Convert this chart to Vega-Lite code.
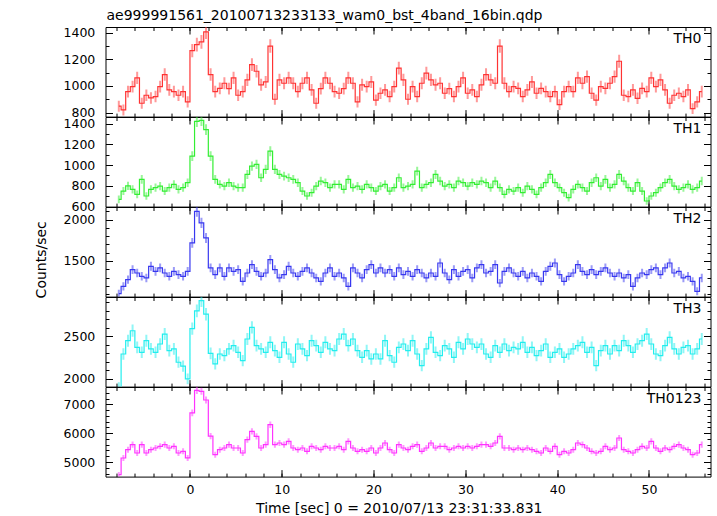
{
"$schema": "https://vega.github.io/schema/vega-lite/v6.json",
"background": "white",
"padding": {"left": 33.5, "top": 7, "right": 5, "bottom": 5},
"datasets": {
"TH0": [
{"t":-7.75,"v":848,"e":41},{"t":-7.25,"v":820,"e":41},{"t":-6.75,"v":957,"e":44},{"t":-6.25,"v":995,"e":44},{"t":-5.75,"v":1060,"e":46},{"t":-5.25,"v":870,"e":41},{"t":-4.75,"v":930,"e":43},{"t":-4.25,"v":910,"e":43},
{"t":-3.75,"v":920,"e":43},{"t":-3.25,"v":995,"e":44},{"t":-2.75,"v":1085,"e":47},{"t":-2.25,"v":970,"e":44},{"t":-1.75,"v":957,"e":44},{"t":-1.25,"v":930,"e":43},{"t":-0.75,"v":957,"e":44},{"t":-0.25,"v":880,"e":42},
{"t":0.25,"v":1265,"e":50},{"t":0.75,"v":1310,"e":51},{"t":1.25,"v":1330,"e":52},{"t":1.75,"v":1405,"e":53},{"t":2.25,"v":1085,"e":47},{"t":2.75,"v":957,"e":44},{"t":3.25,"v":982,"e":44},{"t":3.75,"v":1020,"e":45},
{"t":4.25,"v":980,"e":44},{"t":4.75,"v":1060,"e":46},{"t":5.25,"v":930,"e":43},{"t":5.75,"v":957,"e":44},{"t":6.25,"v":1045,"e":46},{"t":6.75,"v":1160,"e":48},{"t":7.25,"v":1110,"e":47},{"t":7.75,"v":1008,"e":45},
{"t":8.25,"v":1030,"e":45},{"t":8.75,"v":1299,"e":51},{"t":9.25,"v":900,"e":42},{"t":9.75,"v":1045,"e":46},{"t":10.25,"v":1020,"e":45},{"t":10.75,"v":1060,"e":46},{"t":11.25,"v":1020,"e":45},{"t":11.75,"v":957,"e":44},
{"t":12.25,"v":1020,"e":45},{"t":12.75,"v":1060,"e":46},{"t":13.25,"v":970,"e":44},{"t":13.75,"v":870,"e":42},{"t":14.25,"v":980,"e":44},{"t":14.75,"v":1060,"e":46},{"t":15.25,"v":1020,"e":45},{"t":15.75,"v":957,"e":44},
{"t":16.25,"v":945,"e":43},{"t":16.75,"v":980,"e":44},{"t":17.25,"v":1060,"e":46},{"t":17.75,"v":1020,"e":45},{"t":18.25,"v":880,"e":42},{"t":18.75,"v":1008,"e":45},{"t":19.25,"v":995,"e":44},{"t":19.75,"v":1030,"e":45},
{"t":20.25,"v":894,"e":42},{"t":20.75,"v":945,"e":43},{"t":21.25,"v":970,"e":44},{"t":21.75,"v":920,"e":43},{"t":22.25,"v":995,"e":44},{"t":22.75,"v":1134,"e":48},{"t":23.25,"v":1045,"e":46},{"t":23.75,"v":900,"e":42},
{"t":24.25,"v":995,"e":44},{"t":24.75,"v":920,"e":43},{"t":25.25,"v":1020,"e":45},{"t":25.75,"v":1096,"e":47},{"t":26.25,"v":1045,"e":46},{"t":26.75,"v":1008,"e":45},{"t":27.25,"v":1020,"e":45},{"t":27.75,"v":945,"e":43},
{"t":28.25,"v":980,"e":44},{"t":28.75,"v":920,"e":43},{"t":29.25,"v":995,"e":44},{"t":29.75,"v":1060,"e":46},{"t":30.25,"v":945,"e":43},{"t":30.75,"v":970,"e":44},{"t":31.25,"v":920,"e":43},{"t":31.75,"v":1008,"e":45},
{"t":32.25,"v":1085,"e":47},{"t":32.75,"v":1045,"e":46},{"t":33.25,"v":1020,"e":45},{"t":33.75,"v":1299,"e":51},{"t":34.25,"v":1020,"e":45},{"t":34.75,"v":957,"e":44},{"t":35.25,"v":995,"e":44},{"t":35.75,"v":982,"e":44},
{"t":36.25,"v":920,"e":43},{"t":36.75,"v":970,"e":44},{"t":37.25,"v":1030,"e":45},{"t":37.75,"v":945,"e":43},{"t":38.25,"v":982,"e":44},{"t":38.75,"v":957,"e":44},{"t":39.25,"v":920,"e":43},{"t":39.75,"v":957,"e":44},
{"t":40.25,"v":860,"e":41},{"t":40.75,"v":957,"e":44},{"t":41.25,"v":995,"e":44},{"t":41.75,"v":957,"e":44},{"t":42.25,"v":1060,"e":46},{"t":42.75,"v":1020,"e":45},{"t":43.25,"v":1070,"e":46},{"t":43.75,"v":945,"e":43},
{"t":44.25,"v":894,"e":42},{"t":44.75,"v":995,"e":44},{"t":45.25,"v":982,"e":44},{"t":45.75,"v":1020,"e":45},{"t":46.25,"v":1070,"e":46},{"t":46.75,"v":1185,"e":49},{"t":47.25,"v":930,"e":43},{"t":47.75,"v":920,"e":43},
{"t":48.25,"v":970,"e":44},{"t":48.75,"v":907,"e":43},{"t":49.25,"v":982,"e":44},{"t":49.75,"v":957,"e":44},{"t":50.25,"v":1060,"e":46},{"t":50.75,"v":995,"e":44},{"t":51.25,"v":1045,"e":46},{"t":51.75,"v":970,"e":44},
{"t":52.25,"v":870,"e":42},{"t":52.75,"v":930,"e":43},{"t":53.25,"v":945,"e":43},{"t":53.75,"v":920,"e":43},{"t":54.25,"v":970,"e":44},{"t":54.75,"v":830,"e":41},{"t":55.25,"v":881,"e":42},{"t":55.75,"v":957,"e":44}
],
"TH1": [
{"t":-7.75,"v":670,"e":37},{"t":-7.25,"v":750,"e":39},{"t":-6.75,"v":800,"e":40},{"t":-6.25,"v":766,"e":39},{"t":-5.75,"v":718,"e":38},{"t":-5.25,"v":862,"e":42},{"t":-4.75,"v":702,"e":37},{"t":-4.25,"v":766,"e":39},
{"t":-3.75,"v":782,"e":40},{"t":-3.25,"v":798,"e":40},{"t":-2.75,"v":750,"e":39},{"t":-2.25,"v":782,"e":40},{"t":-1.75,"v":814,"e":40},{"t":-1.25,"v":766,"e":39},{"t":-0.75,"v":782,"e":40},{"t":-0.25,"v":830,"e":41},
{"t":0.25,"v":1086,"e":47},{"t":0.75,"v":1420,"e":53},{"t":1.25,"v":1430,"e":53},{"t":1.75,"v":1342,"e":52},{"t":2.25,"v":1086,"e":47},{"t":2.75,"v":862,"e":42},{"t":3.25,"v":814,"e":40},{"t":3.75,"v":798,"e":40},
{"t":4.25,"v":830,"e":41},{"t":4.75,"v":798,"e":40},{"t":5.25,"v":782,"e":40},{"t":5.75,"v":782,"e":40},{"t":6.25,"v":910,"e":43},{"t":6.75,"v":990,"e":44},{"t":7.25,"v":1006,"e":45},{"t":7.75,"v":878,"e":42},
{"t":8.25,"v":958,"e":44},{"t":8.75,"v":1134,"e":48},{"t":9.25,"v":958,"e":44},{"t":9.75,"v":910,"e":43},{"t":10.25,"v":894,"e":42},{"t":10.75,"v":878,"e":42},{"t":11.25,"v":862,"e":42},{"t":11.75,"v":830,"e":41},
{"t":12.25,"v":750,"e":39},{"t":12.75,"v":702,"e":37},{"t":13.25,"v":734,"e":38},{"t":13.75,"v":798,"e":40},{"t":14.25,"v":846,"e":41},{"t":14.75,"v":830,"e":41},{"t":15.25,"v":782,"e":40},{"t":15.75,"v":814,"e":40},
{"t":16.25,"v":814,"e":40},{"t":16.75,"v":766,"e":39},{"t":17.25,"v":862,"e":42},{"t":17.75,"v":782,"e":40},{"t":18.25,"v":798,"e":40},{"t":18.75,"v":766,"e":39},{"t":19.25,"v":814,"e":40},{"t":19.75,"v":782,"e":40},
{"t":20.25,"v":750,"e":39},{"t":20.75,"v":798,"e":40},{"t":21.25,"v":814,"e":40},{"t":21.75,"v":750,"e":39},{"t":22.25,"v":782,"e":40},{"t":22.75,"v":878,"e":42},{"t":23.25,"v":782,"e":40},{"t":23.75,"v":798,"e":40},
{"t":24.25,"v":814,"e":40},{"t":24.75,"v":942,"e":43},{"t":25.25,"v":782,"e":40},{"t":25.75,"v":814,"e":40},{"t":26.25,"v":830,"e":41},{"t":26.75,"v":910,"e":43},{"t":27.25,"v":846,"e":41},{"t":27.75,"v":798,"e":40},
{"t":28.25,"v":814,"e":40},{"t":28.75,"v":782,"e":40},{"t":29.25,"v":846,"e":41},{"t":29.75,"v":830,"e":41},{"t":30.25,"v":798,"e":40},{"t":30.75,"v":830,"e":41},{"t":31.25,"v":814,"e":40},{"t":31.75,"v":846,"e":41},
{"t":32.25,"v":830,"e":41},{"t":32.75,"v":782,"e":40},{"t":33.25,"v":846,"e":41},{"t":33.75,"v":782,"e":40},{"t":34.25,"v":718,"e":38},{"t":34.75,"v":766,"e":39},{"t":35.25,"v":750,"e":39},{"t":35.75,"v":782,"e":40},
{"t":36.25,"v":734,"e":38},{"t":36.75,"v":798,"e":40},{"t":37.25,"v":766,"e":39},{"t":37.75,"v":718,"e":38},{"t":38.25,"v":782,"e":40},{"t":38.75,"v":830,"e":41},{"t":39.25,"v":910,"e":43},{"t":39.75,"v":830,"e":41},
{"t":40.25,"v":782,"e":40},{"t":40.75,"v":734,"e":38},{"t":41.25,"v":686,"e":37},{"t":41.75,"v":766,"e":39},{"t":42.25,"v":814,"e":40},{"t":42.75,"v":782,"e":40},{"t":43.25,"v":750,"e":39},{"t":43.75,"v":830,"e":41},
{"t":44.25,"v":878,"e":42},{"t":44.75,"v":798,"e":40},{"t":45.25,"v":862,"e":42},{"t":45.75,"v":782,"e":40},{"t":46.25,"v":814,"e":40},{"t":46.75,"v":910,"e":43},{"t":47.25,"v":846,"e":41},{"t":47.75,"v":782,"e":40},
{"t":48.25,"v":750,"e":39},{"t":48.75,"v":830,"e":41},{"t":49.25,"v":750,"e":39},{"t":49.75,"v":654,"e":36},{"t":50.25,"v":702,"e":37},{"t":50.75,"v":734,"e":38},{"t":51.25,"v":782,"e":40},{"t":51.75,"v":830,"e":41},
{"t":52.25,"v":862,"e":42},{"t":52.75,"v":798,"e":40},{"t":53.25,"v":766,"e":39},{"t":53.75,"v":782,"e":40},{"t":54.25,"v":814,"e":40},{"t":54.75,"v":766,"e":39},{"t":55.25,"v":782,"e":40},{"t":55.75,"v":846,"e":41}
],
"TH2": [
{"t":-7.75,"v":1105,"e":47},{"t":-7.25,"v":1194,"e":49},{"t":-6.75,"v":1275,"e":50},{"t":-6.25,"v":1395,"e":53},{"t":-5.75,"v":1355,"e":52},{"t":-5.25,"v":1315,"e":51},{"t":-4.75,"v":1295,"e":51},{"t":-4.25,"v":1436,"e":54},
{"t":-3.75,"v":1375,"e":52},{"t":-3.25,"v":1416,"e":53},{"t":-2.75,"v":1355,"e":52},{"t":-2.25,"v":1315,"e":51},{"t":-1.75,"v":1375,"e":52},{"t":-1.25,"v":1335,"e":52},{"t":-0.75,"v":1315,"e":51},{"t":-0.25,"v":1375,"e":52},
{"t":0.25,"v":1718,"e":59},{"t":0.75,"v":2100,"e":65},{"t":1.25,"v":1960,"e":63},{"t":1.75,"v":1778,"e":60},{"t":2.25,"v":1416,"e":53},{"t":2.75,"v":1335,"e":52},{"t":3.25,"v":1416,"e":53},{"t":3.75,"v":1315,"e":51},
{"t":4.25,"v":1416,"e":53},{"t":4.75,"v":1375,"e":52},{"t":5.25,"v":1395,"e":53},{"t":5.75,"v":1254,"e":50},{"t":6.25,"v":1355,"e":52},{"t":6.75,"v":1456,"e":54},{"t":7.25,"v":1375,"e":52},{"t":7.75,"v":1315,"e":51},
{"t":8.25,"v":1355,"e":52},{"t":8.75,"v":1516,"e":55},{"t":9.25,"v":1395,"e":53},{"t":9.75,"v":1295,"e":51},{"t":10.25,"v":1335,"e":52},{"t":10.75,"v":1436,"e":54},{"t":11.25,"v":1355,"e":52},{"t":11.75,"v":1315,"e":51},
{"t":12.25,"v":1375,"e":52},{"t":12.75,"v":1416,"e":53},{"t":13.25,"v":1355,"e":52},{"t":13.75,"v":1295,"e":51},{"t":14.25,"v":1254,"e":50},{"t":14.75,"v":1355,"e":52},{"t":15.25,"v":1416,"e":53},{"t":15.75,"v":1315,"e":51},
{"t":16.25,"v":1355,"e":52},{"t":16.75,"v":1295,"e":51},{"t":17.25,"v":1194,"e":49},{"t":17.75,"v":1416,"e":53},{"t":18.25,"v":1355,"e":52},{"t":18.75,"v":1295,"e":51},{"t":19.25,"v":1395,"e":53},{"t":19.75,"v":1456,"e":54},
{"t":20.25,"v":1355,"e":52},{"t":20.75,"v":1416,"e":53},{"t":21.25,"v":1355,"e":52},{"t":21.75,"v":1395,"e":53},{"t":22.25,"v":1315,"e":51},{"t":22.75,"v":1416,"e":53},{"t":23.25,"v":1335,"e":52},{"t":23.75,"v":1375,"e":52},
{"t":24.25,"v":1315,"e":51},{"t":24.75,"v":1395,"e":53},{"t":25.25,"v":1355,"e":52},{"t":25.75,"v":1295,"e":51},{"t":26.25,"v":1355,"e":52},{"t":26.75,"v":1315,"e":51},{"t":27.25,"v":1476,"e":54},{"t":27.75,"v":1355,"e":52},
{"t":28.25,"v":1275,"e":50},{"t":28.75,"v":1395,"e":53},{"t":29.25,"v":1315,"e":51},{"t":29.75,"v":1375,"e":52},{"t":30.25,"v":1395,"e":53},{"t":30.75,"v":1295,"e":51},{"t":31.25,"v":1416,"e":53},{"t":31.75,"v":1456,"e":54},
{"t":32.25,"v":1355,"e":52},{"t":32.75,"v":1375,"e":52},{"t":33.25,"v":1456,"e":54},{"t":33.75,"v":1234,"e":50},{"t":34.25,"v":1375,"e":52},{"t":34.75,"v":1416,"e":53},{"t":35.25,"v":1355,"e":52},{"t":35.75,"v":1315,"e":51},
{"t":36.25,"v":1375,"e":52},{"t":36.75,"v":1295,"e":51},{"t":37.25,"v":1355,"e":52},{"t":37.75,"v":1315,"e":51},{"t":38.25,"v":1254,"e":50},{"t":38.75,"v":1375,"e":52},{"t":39.25,"v":1436,"e":54},{"t":39.75,"v":1476,"e":54},
{"t":40.25,"v":1335,"e":52},{"t":40.75,"v":1254,"e":50},{"t":41.25,"v":1315,"e":51},{"t":41.75,"v":1355,"e":52},{"t":42.25,"v":1456,"e":54},{"t":42.75,"v":1375,"e":52},{"t":43.25,"v":1335,"e":52},{"t":43.75,"v":1395,"e":53},
{"t":44.25,"v":1335,"e":52},{"t":44.75,"v":1375,"e":52},{"t":45.25,"v":1416,"e":53},{"t":45.75,"v":1355,"e":52},{"t":46.25,"v":1315,"e":51},{"t":46.75,"v":1355,"e":52},{"t":47.25,"v":1295,"e":51},{"t":47.75,"v":1335,"e":52},
{"t":48.25,"v":1194,"e":49},{"t":48.75,"v":1295,"e":51},{"t":49.25,"v":1355,"e":52},{"t":49.75,"v":1335,"e":52},{"t":50.25,"v":1395,"e":53},{"t":50.75,"v":1416,"e":53},{"t":51.25,"v":1335,"e":52},{"t":51.75,"v":1416,"e":53},
{"t":52.25,"v":1476,"e":54},{"t":52.75,"v":1355,"e":52},{"t":53.25,"v":1375,"e":52},{"t":53.75,"v":1295,"e":51},{"t":54.25,"v":1315,"e":51},{"t":54.75,"v":1254,"e":50},{"t":55.25,"v":1134,"e":48},{"t":55.75,"v":1295,"e":51}
],
"TH3": [
{"t":-7.75,"v":1900,"e":62},{"t":-7.25,"v":2293,"e":68},{"t":-6.75,"v":2449,"e":70},{"t":-6.25,"v":2566,"e":72},{"t":-5.75,"v":2371,"e":69},{"t":-5.25,"v":2313,"e":68},{"t":-4.75,"v":2449,"e":70},{"t":-4.25,"v":2352,"e":69},
{"t":-3.75,"v":2313,"e":68},{"t":-3.25,"v":2410,"e":69},{"t":-2.75,"v":2527,"e":71},{"t":-2.25,"v":2332,"e":68},{"t":-1.75,"v":2352,"e":69},{"t":-1.25,"v":2196,"e":66},{"t":-0.75,"v":2150,"e":66},{"t":-0.25,"v":2000,"e":63},
{"t":0.25,"v":2590,"e":72},{"t":0.75,"v":2800,"e":75},{"t":1.25,"v":2920,"e":76},{"t":1.75,"v":2760,"e":74},{"t":2.25,"v":2300,"e":68},{"t":2.75,"v":2176,"e":66},{"t":3.25,"v":2293,"e":68},{"t":3.75,"v":2274,"e":67},
{"t":4.25,"v":2352,"e":69},{"t":4.75,"v":2391,"e":69},{"t":5.25,"v":2313,"e":68},{"t":5.75,"v":2215,"e":67},{"t":6.25,"v":2469,"e":70},{"t":6.75,"v":2605,"e":72},{"t":7.25,"v":2391,"e":69},{"t":7.75,"v":2352,"e":69},
{"t":8.25,"v":2313,"e":68},{"t":8.75,"v":2430,"e":70},{"t":9.25,"v":2332,"e":68},{"t":9.75,"v":2254,"e":67},{"t":10.25,"v":2430,"e":70},{"t":10.75,"v":2293,"e":68},{"t":11.25,"v":2196,"e":66},{"t":11.75,"v":2410,"e":69},
{"t":12.25,"v":2352,"e":69},{"t":12.75,"v":2274,"e":67},{"t":13.25,"v":2449,"e":70},{"t":13.75,"v":2391,"e":69},{"t":14.25,"v":2313,"e":68},{"t":14.75,"v":2430,"e":70},{"t":15.25,"v":2352,"e":69},{"t":15.75,"v":2332,"e":68},
{"t":16.25,"v":2469,"e":70},{"t":16.75,"v":2527,"e":71},{"t":17.25,"v":2391,"e":69},{"t":17.75,"v":2469,"e":70},{"t":18.25,"v":2332,"e":68},{"t":18.75,"v":2254,"e":67},{"t":19.25,"v":2332,"e":68},{"t":19.75,"v":2235,"e":67},
{"t":20.25,"v":2293,"e":68},{"t":20.75,"v":2235,"e":67},{"t":21.25,"v":2449,"e":70},{"t":21.75,"v":2274,"e":67},{"t":22.25,"v":2196,"e":66},{"t":22.75,"v":2371,"e":69},{"t":23.25,"v":2410,"e":69},{"t":23.75,"v":2332,"e":68},
{"t":24.25,"v":2449,"e":70},{"t":24.75,"v":2293,"e":68},{"t":25.25,"v":2157,"e":66},{"t":25.75,"v":2352,"e":69},{"t":26.25,"v":2488,"e":71},{"t":26.75,"v":2313,"e":68},{"t":27.25,"v":2274,"e":67},{"t":27.75,"v":2391,"e":69},
{"t":28.25,"v":2352,"e":69},{"t":28.75,"v":2254,"e":67},{"t":29.25,"v":2430,"e":70},{"t":29.75,"v":2352,"e":69},{"t":30.25,"v":2469,"e":70},{"t":30.75,"v":2410,"e":69},{"t":31.25,"v":2371,"e":69},{"t":31.75,"v":2410,"e":69},
{"t":32.25,"v":2293,"e":68},{"t":32.75,"v":2254,"e":67},{"t":33.25,"v":2391,"e":69},{"t":33.75,"v":2313,"e":68},{"t":34.25,"v":2410,"e":69},{"t":34.75,"v":2332,"e":68},{"t":35.25,"v":2371,"e":69},{"t":35.75,"v":2352,"e":69},
{"t":36.25,"v":2430,"e":70},{"t":36.75,"v":2313,"e":68},{"t":37.25,"v":2371,"e":69},{"t":37.75,"v":2274,"e":67},{"t":38.25,"v":2332,"e":68},{"t":38.75,"v":2410,"e":69},{"t":39.25,"v":2254,"e":67},{"t":39.75,"v":2313,"e":68},
{"t":40.25,"v":2352,"e":69},{"t":40.75,"v":2254,"e":67},{"t":41.25,"v":2293,"e":68},{"t":41.75,"v":2352,"e":69},{"t":42.25,"v":2391,"e":69},{"t":42.75,"v":2430,"e":70},{"t":43.25,"v":2313,"e":68},{"t":43.75,"v":2371,"e":69},
{"t":44.25,"v":2157,"e":66},{"t":44.75,"v":2332,"e":68},{"t":45.25,"v":2391,"e":69},{"t":45.75,"v":2293,"e":68},{"t":46.25,"v":2391,"e":69},{"t":46.75,"v":2332,"e":68},{"t":47.25,"v":2449,"e":70},{"t":47.75,"v":2391,"e":69},
{"t":48.25,"v":2313,"e":68},{"t":48.75,"v":2410,"e":69},{"t":49.25,"v":2449,"e":70},{"t":49.75,"v":2527,"e":71},{"t":50.25,"v":2410,"e":69},{"t":50.75,"v":2293,"e":68},{"t":51.25,"v":2274,"e":67},{"t":51.75,"v":2391,"e":69},
{"t":52.25,"v":2488,"e":71},{"t":52.75,"v":2352,"e":69},{"t":53.25,"v":2293,"e":68},{"t":53.75,"v":2371,"e":69},{"t":54.25,"v":2391,"e":69},{"t":54.75,"v":2293,"e":68},{"t":55.25,"v":2352,"e":69},{"t":55.75,"v":2469,"e":70}
],
"TH0123": [
{"t":-7.75,"v":4561,"e":96},{"t":-7.25,"v":5139,"e":101},{"t":-6.75,"v":5428,"e":104},{"t":-6.25,"v":5601,"e":106},{"t":-5.75,"v":5312,"e":103},{"t":-5.25,"v":5601,"e":106},{"t":-4.75,"v":5312,"e":103},{"t":-4.25,"v":5428,"e":104},
{"t":-3.75,"v":5486,"e":105},{"t":-3.25,"v":5543,"e":105},{"t":-2.75,"v":5601,"e":106},{"t":-2.25,"v":5486,"e":105},{"t":-1.75,"v":5543,"e":105},{"t":-1.25,"v":5312,"e":103},{"t":-0.75,"v":5370,"e":104},{"t":-0.25,"v":5140,"e":101},
{"t":0.25,"v":6700,"e":116},{"t":0.75,"v":7480,"e":122},{"t":1.25,"v":7450,"e":122},{"t":1.75,"v":7150,"e":120},{"t":2.25,"v":5900,"e":109},{"t":2.75,"v":5254,"e":103},{"t":3.25,"v":5428,"e":104},{"t":3.75,"v":5486,"e":105},
{"t":4.25,"v":5601,"e":106},{"t":4.75,"v":5486,"e":105},{"t":5.25,"v":5486,"e":105},{"t":5.75,"v":5312,"e":103},{"t":6.25,"v":5775,"e":107},{"t":6.75,"v":6064,"e":110},{"t":7.25,"v":5890,"e":109},{"t":7.75,"v":5486,"e":105},
{"t":8.25,"v":5601,"e":106},{"t":8.75,"v":6295,"e":112},{"t":9.25,"v":5601,"e":106},{"t":9.75,"v":5659,"e":106},{"t":10.25,"v":5601,"e":106},{"t":10.75,"v":5717,"e":107},{"t":11.25,"v":5486,"e":105},{"t":11.75,"v":5428,"e":104},
{"t":12.25,"v":5486,"e":105},{"t":12.75,"v":5370,"e":104},{"t":13.25,"v":5543,"e":105},{"t":13.75,"v":5486,"e":105},{"t":14.25,"v":5428,"e":104},{"t":14.75,"v":5543,"e":105},{"t":15.25,"v":5486,"e":105},{"t":15.75,"v":5486,"e":105},
{"t":16.25,"v":5543,"e":105},{"t":16.75,"v":5428,"e":104},{"t":17.25,"v":5717,"e":107},{"t":17.75,"v":5486,"e":105},{"t":18.25,"v":5370,"e":104},{"t":18.75,"v":5428,"e":104},{"t":19.25,"v":5370,"e":104},{"t":19.75,"v":5486,"e":105},
{"t":20.25,"v":5312,"e":103},{"t":20.75,"v":5486,"e":105},{"t":21.25,"v":5659,"e":106},{"t":21.75,"v":5428,"e":104},{"t":22.25,"v":5312,"e":103},{"t":22.75,"v":5601,"e":106},{"t":23.25,"v":5486,"e":105},{"t":23.75,"v":5428,"e":104},
{"t":24.25,"v":5543,"e":105},{"t":24.75,"v":5601,"e":106},{"t":25.25,"v":5370,"e":104},{"t":25.75,"v":5486,"e":105},{"t":26.25,"v":5659,"e":106},{"t":26.75,"v":5486,"e":105},{"t":27.25,"v":5543,"e":105},{"t":27.75,"v":5543,"e":105},
{"t":28.25,"v":5428,"e":104},{"t":28.75,"v":5486,"e":105},{"t":29.25,"v":5543,"e":105},{"t":29.75,"v":5486,"e":105},{"t":30.25,"v":5543,"e":105},{"t":30.75,"v":5486,"e":105},{"t":31.25,"v":5543,"e":105},{"t":31.75,"v":5601,"e":106},
{"t":32.25,"v":5601,"e":106},{"t":32.75,"v":5543,"e":105},{"t":33.25,"v":5659,"e":106},{"t":33.75,"v":5890,"e":109},{"t":34.25,"v":5486,"e":105},{"t":34.75,"v":5486,"e":105},{"t":35.25,"v":5428,"e":104},{"t":35.75,"v":5486,"e":105},
{"t":36.25,"v":5428,"e":104},{"t":36.75,"v":5486,"e":105},{"t":37.25,"v":5428,"e":104},{"t":37.75,"v":5370,"e":104},{"t":38.25,"v":5312,"e":103},{"t":38.75,"v":5486,"e":105},{"t":39.25,"v":5370,"e":104},{"t":39.75,"v":5543,"e":105},
{"t":40.25,"v":5254,"e":103},{"t":40.75,"v":5370,"e":104},{"t":41.25,"v":5312,"e":103},{"t":41.75,"v":5428,"e":104},{"t":42.25,"v":5659,"e":106},{"t":42.75,"v":5601,"e":106},{"t":43.25,"v":5486,"e":105},{"t":43.75,"v":5370,"e":104},
{"t":44.25,"v":5312,"e":103},{"t":44.75,"v":5370,"e":104},{"t":45.25,"v":5543,"e":105},{"t":45.75,"v":5428,"e":104},{"t":46.25,"v":5486,"e":105},{"t":46.75,"v":5832,"e":108},{"t":47.25,"v":5428,"e":104},{"t":47.75,"v":5370,"e":104},
{"t":48.25,"v":5312,"e":103},{"t":48.75,"v":5428,"e":104},{"t":49.25,"v":5543,"e":105},{"t":49.75,"v":5486,"e":105},{"t":50.25,"v":5717,"e":107},{"t":50.75,"v":5486,"e":105},{"t":51.25,"v":5370,"e":104},{"t":51.75,"v":5486,"e":105},
{"t":52.25,"v":5428,"e":104},{"t":52.75,"v":5543,"e":105},{"t":53.25,"v":5601,"e":106},{"t":53.75,"v":5486,"e":105},{"t":54.25,"v":5428,"e":104},{"t":54.75,"v":5254,"e":103},{"t":55.25,"v":5312,"e":103},{"t":55.75,"v":5601,"e":106}
]
},
"vconcat": [
{
"data": {"name": "TH0"},
"width": 605, "height": 89.6,
"layer": [
{"mark": {"type": "errorbar", "color": "#ff3333", "opacity": 0.5, "thickness": 2, "clip": true},
 "encoding": {
  "x": {"field": "t", "type": "quantitative", "scale": {"domain": [-9.2, 56.7], "nice": false, "zero": false}, "axis": {"orient": "bottom", "values": [0,10,20,30,40,50], "tickSize": -7, "labels": false, "title": null}},
  "y": {"field": "v", "type": "quantitative", "scale": {"domain": [770, 1442], "nice": false, "zero": false}, "axis": {"orient": "left", "values": [800,1000,1200,1400], "format": "d", "tickSize": -7, "labelPadding": 17.7, "title": null}},
  "yError": {"field": "e"}}},
{"mark": {"type": "line", "interpolate": "step", "color": "#ff3333", "strokeWidth": 1.2, "clip": true},
 "encoding": {
  "x": {"field": "t", "type": "quantitative", "scale": {"domain": [-9.2, 56.7], "nice": false, "zero": false}, "axis": {"orient": "bottom", "values": [-8,-6,-4,-2,0,2,4,6,8,10,12,14,16,18,20,22,24,26,28,30,32,34,36,38,40,42,44,46,48,50,52,54,56], "tickSize": -3.5, "labels": false, "title": null}},
  "y": {"field": "v", "type": "quantitative", "scale": {"domain": [770, 1442], "nice": false, "zero": false}, "axis": {"orient": "left", "values": [800,900,1000,1100,1200,1300,1400], "tickSize": -3.5, "labels": false, "title": null}}}},
{"mark": {"type": "point", "opacity": 0},
 "encoding": {
  "x": {"field": "t", "type": "quantitative", "scale": {"domain": [-9.2, 56.7], "nice": false, "zero": false}, "axis": {"orient": "top", "values": [0,10,20,30,40,50], "tickSize": -7, "labels": false, "title": "ae999991561_20100713233133_wam0_bst_4band_16bin.qdp", "titleX": 0.5, "titleY": -7.7, "titleAlign": "left", "titleBaseline": "alphabetic", "titleAngle": 0, "titleAnchor": "start"}},
  "y": {"field": "v", "type": "quantitative", "scale": {"domain": [770, 1442], "nice": false, "zero": false}, "axis": {"orient": "right", "values": [800,1000,1200,1400], "tickSize": -7, "labels": false, "title": null}}}},
{"mark": {"type": "point", "opacity": 0},
 "encoding": {
  "x": {"field": "t", "type": "quantitative", "scale": {"domain": [-9.2, 56.7], "nice": false, "zero": false}, "axis": {"orient": "top", "values": [-8,-6,-4,-2,0,2,4,6,8,10,12,14,16,18,20,22,24,26,28,30,32,34,36,38,40,42,44,46,48,50,52,54,56], "tickSize": -3.5, "labels": false, "title": null}},
  "y": {"field": "v", "type": "quantitative", "scale": {"domain": [770, 1442], "nice": false, "zero": false}, "axis": {"orient": "right", "values": [800,900,1000,1100,1200,1300,1400], "tickSize": -3.5, "labels": false, "title": null}}}},
{"data": {"values": [{"label": "TH0", "x": 56.7, "y": 1442}]},
 "mark": {"type": "text", "align": "right", "baseline": "alphabetic", "dx": -9, "dy": 15.6, "font": "DejaVu Sans", "fontSize": 14, "color": "#000"},
 "encoding": {
  "x": {"field": "x", "type": "quantitative", "scale": {"domain": [-9.2, 56.7], "nice": false, "zero": false}, "axis": null},
  "y": {"field": "y", "type": "quantitative", "scale": {"domain": [770, 1442], "nice": false, "zero": false}, "axis": null},
  "text": {"field": "label"}}}
],
"resolve": {"axis": {"x": "independent", "y": "independent"}}
},
{
"data": {"name": "TH1"},
"width": 605, "height": 89.6,
"layer": [
{"mark": {"type": "errorbar", "color": "#33ee33", "opacity": 0.5, "thickness": 2, "clip": true},
 "encoding": {
  "x": {"field": "t", "type": "quantitative", "scale": {"domain": [-9.2, 56.7], "nice": false, "zero": false}, "axis": {"orient": "bottom", "values": [0,10,20,30,40,50], "tickSize": -7, "labels": false, "title": null}},
  "y": {"field": "v", "type": "quantitative", "scale": {"domain": [600, 1463], "nice": false, "zero": false}, "axis": {"orient": "left", "values": [600,800,1000,1200,1400], "format": "d", "tickSize": -7, "labelPadding": 17.7, "title": null}},
  "yError": {"field": "e"}}},
{"mark": {"type": "line", "interpolate": "step", "color": "#33ee33", "strokeWidth": 1.2, "clip": true},
 "encoding": {
  "x": {"field": "t", "type": "quantitative", "scale": {"domain": [-9.2, 56.7], "nice": false, "zero": false}, "axis": {"orient": "bottom", "values": [-8,-6,-4,-2,0,2,4,6,8,10,12,14,16,18,20,22,24,26,28,30,32,34,36,38,40,42,44,46,48,50,52,54,56], "tickSize": -3.5, "labels": false, "title": null}},
  "y": {"field": "v", "type": "quantitative", "scale": {"domain": [600, 1463], "nice": false, "zero": false}, "axis": {"orient": "left", "values": [600,700,800,900,1000,1100,1200,1300,1400], "tickSize": -3.5, "labels": false, "title": null}}}},
{"mark": {"type": "point", "opacity": 0},
 "encoding": {
  "x": {"field": "t", "type": "quantitative", "scale": {"domain": [-9.2, 56.7], "nice": false, "zero": false}, "axis": {"orient": "top", "values": [0,10,20,30,40,50], "tickSize": -7, "labels": false, "title": null}},
  "y": {"field": "v", "type": "quantitative", "scale": {"domain": [600, 1463], "nice": false, "zero": false}, "axis": {"orient": "right", "values": [600,800,1000,1200,1400], "tickSize": -7, "labels": false, "title": null}}}},
{"mark": {"type": "point", "opacity": 0},
 "encoding": {
  "x": {"field": "t", "type": "quantitative", "scale": {"domain": [-9.2, 56.7], "nice": false, "zero": false}, "axis": {"orient": "top", "values": [-8,-6,-4,-2,0,2,4,6,8,10,12,14,16,18,20,22,24,26,28,30,32,34,36,38,40,42,44,46,48,50,52,54,56], "tickSize": -3.5, "labels": false, "title": null}},
  "y": {"field": "v", "type": "quantitative", "scale": {"domain": [600, 1463], "nice": false, "zero": false}, "axis": {"orient": "right", "values": [600,700,800,900,1000,1100,1200,1300,1400], "tickSize": -3.5, "labels": false, "title": null}}}},
{"data": {"values": [{"label": "TH1", "x": 56.7, "y": 1463}]},
 "mark": {"type": "text", "align": "right", "baseline": "alphabetic", "dx": -9, "dy": 15.6, "font": "DejaVu Sans", "fontSize": 14, "color": "#000"},
 "encoding": {
  "x": {"field": "x", "type": "quantitative", "scale": {"domain": [-9.2, 56.7], "nice": false, "zero": false}, "axis": null},
  "y": {"field": "y", "type": "quantitative", "scale": {"domain": [600, 1463], "nice": false, "zero": false}, "axis": null},
  "text": {"field": "label"}}}
],
"resolve": {"axis": {"x": "independent", "y": "independent"}}
},
{
"data": {"name": "TH2"},
"width": 605, "height": 89.6,
"layer": [
{"mark": {"type": "errorbar", "color": "#3838f0", "opacity": 0.5, "thickness": 2, "clip": true},
 "encoding": {
  "x": {"field": "t", "type": "quantitative", "scale": {"domain": [-9.2, 56.7], "nice": false, "zero": false}, "axis": {"orient": "bottom", "values": [0,10,20,30,40,50], "tickSize": -7, "labels": false, "title": null}},
  "y": {"field": "v", "type": "quantitative", "scale": {"domain": [1070, 2152], "nice": false, "zero": false}, "axis": {"orient": "left", "values": [1500,2000], "format": "d", "tickSize": -7, "labelPadding": 17.7, "title": "Counts/sec", "titleX": -59.7, "titleY": 52.3, "titleAngle": 270, "titleAlign": "center", "titleBaseline": "alphabetic"}},
  "yError": {"field": "e"}}},
{"mark": {"type": "line", "interpolate": "step", "color": "#3838f0", "strokeWidth": 1.2, "clip": true},
 "encoding": {
  "x": {"field": "t", "type": "quantitative", "scale": {"domain": [-9.2, 56.7], "nice": false, "zero": false}, "axis": {"orient": "bottom", "values": [-8,-6,-4,-2,0,2,4,6,8,10,12,14,16,18,20,22,24,26,28,30,32,34,36,38,40,42,44,46,48,50,52,54,56], "tickSize": -3.5, "labels": false, "title": null}},
  "y": {"field": "v", "type": "quantitative", "scale": {"domain": [1070, 2152], "nice": false, "zero": false}, "axis": {"orient": "left", "values": [1100,1200,1300,1400,1500,1600,1700,1800,1900,2000,2100], "tickSize": -3.5, "labels": false, "title": null}}}},
{"mark": {"type": "point", "opacity": 0},
 "encoding": {
  "x": {"field": "t", "type": "quantitative", "scale": {"domain": [-9.2, 56.7], "nice": false, "zero": false}, "axis": {"orient": "top", "values": [0,10,20,30,40,50], "tickSize": -7, "labels": false, "title": null}},
  "y": {"field": "v", "type": "quantitative", "scale": {"domain": [1070, 2152], "nice": false, "zero": false}, "axis": {"orient": "right", "values": [1500,2000], "tickSize": -7, "labels": false, "title": null}}}},
{"mark": {"type": "point", "opacity": 0},
 "encoding": {
  "x": {"field": "t", "type": "quantitative", "scale": {"domain": [-9.2, 56.7], "nice": false, "zero": false}, "axis": {"orient": "top", "values": [-8,-6,-4,-2,0,2,4,6,8,10,12,14,16,18,20,22,24,26,28,30,32,34,36,38,40,42,44,46,48,50,52,54,56], "tickSize": -3.5, "labels": false, "title": null}},
  "y": {"field": "v", "type": "quantitative", "scale": {"domain": [1070, 2152], "nice": false, "zero": false}, "axis": {"orient": "right", "values": [1100,1200,1300,1400,1500,1600,1700,1800,1900,2000,2100], "tickSize": -3.5, "labels": false, "title": null}}}},
{"data": {"values": [{"label": "TH2", "x": 56.7, "y": 2152}]},
 "mark": {"type": "text", "align": "right", "baseline": "alphabetic", "dx": -9, "dy": 15.6, "font": "DejaVu Sans", "fontSize": 14, "color": "#000"},
 "encoding": {
  "x": {"field": "x", "type": "quantitative", "scale": {"domain": [-9.2, 56.7], "nice": false, "zero": false}, "axis": null},
  "y": {"field": "y", "type": "quantitative", "scale": {"domain": [1070, 2152], "nice": false, "zero": false}, "axis": null},
  "text": {"field": "label"}}}
],
"resolve": {"axis": {"x": "independent", "y": "independent"}}
},
{
"data": {"name": "TH3"},
"width": 605, "height": 89.6,
"layer": [
{"mark": {"type": "errorbar", "color": "#22eeee", "opacity": 0.5, "thickness": 2, "clip": true},
 "encoding": {
  "x": {"field": "t", "type": "quantitative", "scale": {"domain": [-9.2, 56.7], "nice": false, "zero": false}, "axis": {"orient": "bottom", "values": [0,10,20,30,40,50], "tickSize": -7, "labels": false, "title": null}},
  "y": {"field": "v", "type": "quantitative", "scale": {"domain": [1910, 2962], "nice": false, "zero": false}, "axis": {"orient": "left", "values": [2000,2500], "format": "d", "tickSize": -7, "labelPadding": 17.7, "title": null}},
  "yError": {"field": "e"}}},
{"mark": {"type": "line", "interpolate": "step", "color": "#22eeee", "strokeWidth": 1.2, "clip": true},
 "encoding": {
  "x": {"field": "t", "type": "quantitative", "scale": {"domain": [-9.2, 56.7], "nice": false, "zero": false}, "axis": {"orient": "bottom", "values": [-8,-6,-4,-2,0,2,4,6,8,10,12,14,16,18,20,22,24,26,28,30,32,34,36,38,40,42,44,46,48,50,52,54,56], "tickSize": -3.5, "labels": false, "title": null}},
  "y": {"field": "v", "type": "quantitative", "scale": {"domain": [1910, 2962], "nice": false, "zero": false}, "axis": {"orient": "left", "values": [2000,2100,2200,2300,2400,2500,2600,2700,2800,2900], "tickSize": -3.5, "labels": false, "title": null}}}},
{"mark": {"type": "point", "opacity": 0},
 "encoding": {
  "x": {"field": "t", "type": "quantitative", "scale": {"domain": [-9.2, 56.7], "nice": false, "zero": false}, "axis": {"orient": "top", "values": [0,10,20,30,40,50], "tickSize": -7, "labels": false, "title": null}},
  "y": {"field": "v", "type": "quantitative", "scale": {"domain": [1910, 2962], "nice": false, "zero": false}, "axis": {"orient": "right", "values": [2000,2500], "tickSize": -7, "labels": false, "title": null}}}},
{"mark": {"type": "point", "opacity": 0},
 "encoding": {
  "x": {"field": "t", "type": "quantitative", "scale": {"domain": [-9.2, 56.7], "nice": false, "zero": false}, "axis": {"orient": "top", "values": [-8,-6,-4,-2,0,2,4,6,8,10,12,14,16,18,20,22,24,26,28,30,32,34,36,38,40,42,44,46,48,50,52,54,56], "tickSize": -3.5, "labels": false, "title": null}},
  "y": {"field": "v", "type": "quantitative", "scale": {"domain": [1910, 2962], "nice": false, "zero": false}, "axis": {"orient": "right", "values": [2000,2100,2200,2300,2400,2500,2600,2700,2800,2900], "tickSize": -3.5, "labels": false, "title": null}}}},
{"data": {"values": [{"label": "TH3", "x": 56.7, "y": 2962}]},
 "mark": {"type": "text", "align": "right", "baseline": "alphabetic", "dx": -9, "dy": 15.6, "font": "DejaVu Sans", "fontSize": 14, "color": "#000"},
 "encoding": {
  "x": {"field": "x", "type": "quantitative", "scale": {"domain": [-9.2, 56.7], "nice": false, "zero": false}, "axis": null},
  "y": {"field": "y", "type": "quantitative", "scale": {"domain": [1910, 2962], "nice": false, "zero": false}, "axis": null},
  "text": {"field": "label"}}}
],
"resolve": {"axis": {"x": "independent", "y": "independent"}}
},
{
"data": {"name": "TH0123"},
"width": 605, "height": 89.6,
"layer": [
{"mark": {"type": "errorbar", "color": "#ff33ff", "opacity": 0.5, "thickness": 2, "clip": true},
 "encoding": {
  "x": {"field": "t", "type": "quantitative", "scale": {"domain": [-9.2, 56.7], "nice": false, "zero": false}, "axis": {"orient": "bottom", "values": [0,10,20,30,40,50], "tickSize": -7, "labelPadding": 13.8, "title": "Time [sec] 0 = 2010/07/13 23:31:33.831", "titleX": 293.3, "titleY": 35.8, "titleAlign": "center", "titleBaseline": "alphabetic"}},
  "y": {"field": "v", "type": "quantitative", "scale": {"domain": [4494, 7600], "nice": false, "zero": false}, "axis": {"orient": "left", "values": [5000,6000,7000], "format": "d", "tickSize": -7, "labelPadding": 17.7, "title": null}},
  "yError": {"field": "e"}}},
{"mark": {"type": "line", "interpolate": "step", "color": "#ff33ff", "strokeWidth": 1.2, "clip": true},
 "encoding": {
  "x": {"field": "t", "type": "quantitative", "scale": {"domain": [-9.2, 56.7], "nice": false, "zero": false}, "axis": {"orient": "bottom", "values": [-8,-6,-4,-2,0,2,4,6,8,10,12,14,16,18,20,22,24,26,28,30,32,34,36,38,40,42,44,46,48,50,52,54,56], "tickSize": -3.5, "labels": false, "title": null}},
  "y": {"field": "v", "type": "quantitative", "scale": {"domain": [4494, 7600], "nice": false, "zero": false}, "axis": {"orient": "left", "values": [4600,4800,5000,5200,5400,5600,5800,6000,6200,6400,6600,6800,7000,7200,7400,7600], "tickSize": -3.5, "labels": false, "title": null}}}},
{"mark": {"type": "point", "opacity": 0},
 "encoding": {
  "x": {"field": "t", "type": "quantitative", "scale": {"domain": [-9.2, 56.7], "nice": false, "zero": false}, "axis": {"orient": "top", "values": [0,10,20,30,40,50], "tickSize": -7, "labels": false, "title": null}},
  "y": {"field": "v", "type": "quantitative", "scale": {"domain": [4494, 7600], "nice": false, "zero": false}, "axis": {"orient": "right", "values": [5000,6000,7000], "tickSize": -7, "labels": false, "title": null}}}},
{"mark": {"type": "point", "opacity": 0},
 "encoding": {
  "x": {"field": "t", "type": "quantitative", "scale": {"domain": [-9.2, 56.7], "nice": false, "zero": false}, "axis": {"orient": "top", "values": [-8,-6,-4,-2,0,2,4,6,8,10,12,14,16,18,20,22,24,26,28,30,32,34,36,38,40,42,44,46,48,50,52,54,56], "tickSize": -3.5, "labels": false, "title": null}},
  "y": {"field": "v", "type": "quantitative", "scale": {"domain": [4494, 7600], "nice": false, "zero": false}, "axis": {"orient": "right", "values": [4600,4800,5000,5200,5400,5600,5800,6000,6200,6400,6600,6800,7000,7200,7400,7600], "tickSize": -3.5, "labels": false, "title": null}}}},
{"data": {"values": [{"label": "TH0123", "x": 56.7, "y": 7600}]},
 "mark": {"type": "text", "align": "right", "baseline": "alphabetic", "dx": -9, "dy": 15.6, "font": "DejaVu Sans", "fontSize": 14, "color": "#000"},
 "encoding": {
  "x": {"field": "x", "type": "quantitative", "scale": {"domain": [-9.2, 56.7], "nice": false, "zero": false}, "axis": null},
  "y": {"field": "y", "type": "quantitative", "scale": {"domain": [4494, 7600], "nice": false, "zero": false}, "axis": null},
  "text": {"field": "label"}}}
],
"resolve": {"axis": {"x": "independent", "y": "independent"}}
}
],
"spacing": 0,
"bounds": "flush",
"config": {
"view": {"stroke": "#000", "strokeWidth": 1},
"axis": {"domain": false, "grid": false, "labelFont": "DejaVu Sans", "labelFontSize": 12.5, "labelColor": "#000", "tickColor": "#000", "tickWidth": 1, "titleFont": "DejaVu Sans", "titleFontSize": 14, "titleFontWeight": "normal", "titleColor": "#000", "labelOverlap": false, "labelFlush": false}
}
}
